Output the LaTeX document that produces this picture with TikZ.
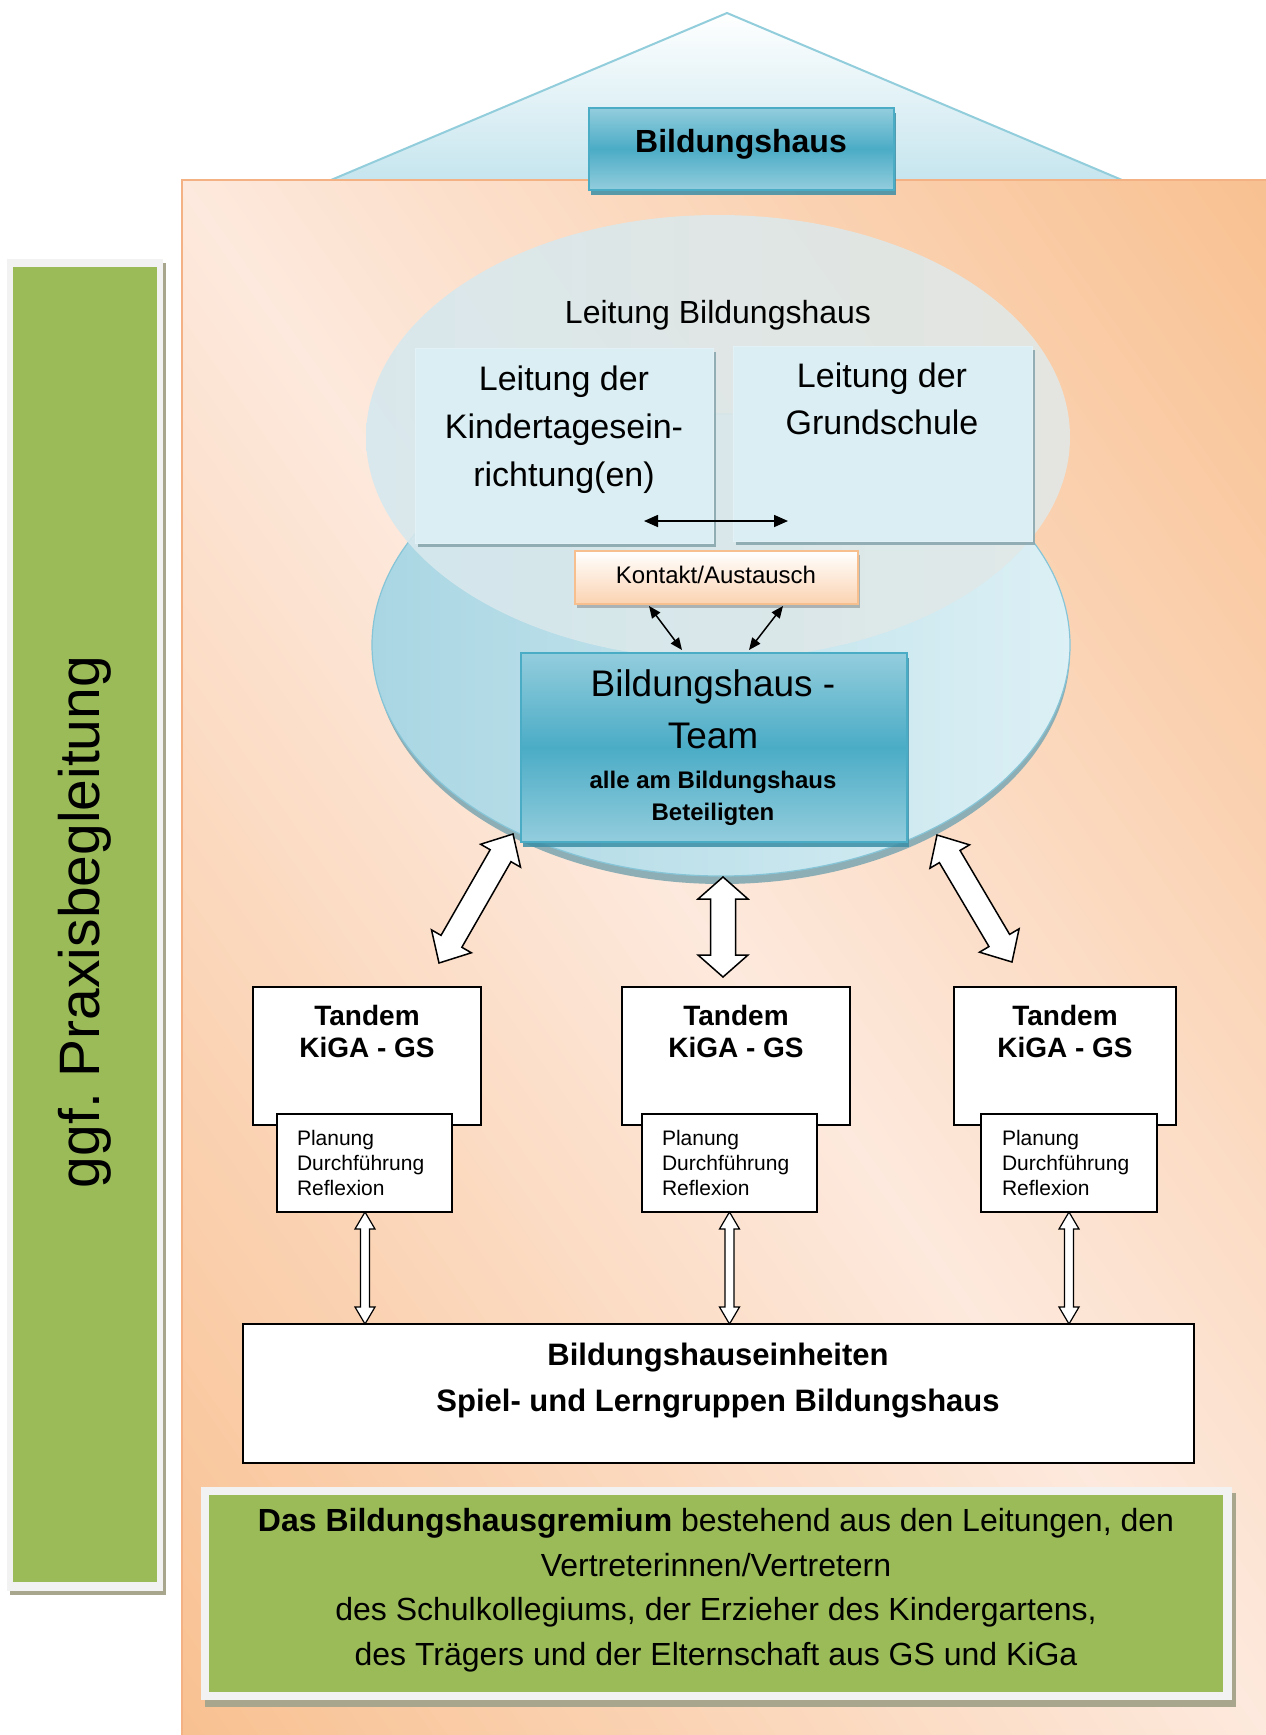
\documentclass[tikz,border=0pt]{standalone}
\usepackage{fontspec}
\setmainfont{Liberation Sans}
\usetikzlibrary{shapes.geometric,arrows.meta,shadows,calc}
\newcommand\fsz[2]{\fontsize{#1}{#2}\selectfont}
% block double arrow between two named coordinates: #1 style, #2 A, #3 B, #4 head length, #5 head half width, #6 shaft half width
\newcommand\blockarr[6]{%
  \filldraw[#1] (#2) -- ($(#2)!#4!(#3)!#5!90:(#3)$) -- ($(#2)!#4!(#3)!#6!90:(#3)$)
    -- ($(#3)!#4!(#2)!#6!-90:(#2)$) -- ($(#3)!#4!(#2)!#5!-90:(#2)$) -- (#3)
    -- ($(#3)!#4!(#2)!#5!90:(#2)$) -- ($(#3)!#4!(#2)!#6!90:(#2)$)
    -- ($(#2)!#4!(#3)!#6!-90:(#3)$) -- ($(#2)!#4!(#3)!#5!-90:(#3)$) -- cycle;}
\definecolor{roofline}{HTML}{92CDDC}
\definecolor{roofbot}{HTML}{C6E5EE}
\definecolor{orDark}{HTML}{F8BD8A}
\definecolor{orLight}{HTML}{FDE9DD}
\definecolor{orBorder}{HTML}{F4B183}
\definecolor{tealA}{HTML}{93CDDD}
\definecolor{tealB}{HTML}{4BACC6}
\definecolor{tealdark}{HTML}{3C8EA5}
\definecolor{ellL}{HTML}{A9D6E3}
\definecolor{ellR}{HTML}{DCF0F5}
\definecolor{ellEdge}{HTML}{86C5D7}
\definecolor{ellRim}{HTML}{8DAEB5}
\definecolor{upL}{HTML}{D6E8EE}
\definecolor{upR}{HTML}{E2E8E6}
\definecolor{leitFill}{HTML}{DAEEF3}
\definecolor{leitShadow}{HTML}{8AA7AF}
\definecolor{kontBot}{HTML}{FBD3B1}
\definecolor{kontBorder}{HTML}{F7BE8E}
\definecolor{grn}{HTML}{9BBB59}
\definecolor{frameGray}{HTML}{F2F2F2}
\definecolor{frameShadow}{HTML}{A8A68C}
\pgfdeclarehorizontalshading{orshade}{100bp}{color(0bp)=(orDark); color(12bp)=(orDark); color(50bp)=(orLight); color(88bp)=(orDark); color(100bp)=(orDark)}
\tikzset{
  leitbox/.style={fill=leitFill, draw=leitFill!80!white, line width=0.5pt, anchor=north west,
    drop shadow={shadow xshift=3pt, shadow yshift=-4pt, fill=leitShadow, opacity=0.9}},
  teambox/.style={top color=tealA, bottom color=tealA, middle color=tealB, draw=tealB, line width=2pt, anchor=north west,
    drop shadow={shadow xshift=2pt, shadow yshift=-5pt, fill=tealdark, opacity=0.85}},
  kontbox/.style={top color=white, bottom color=kontBot, draw=kontBorder, line width=1.5pt, anchor=north west,
    drop shadow={shadow xshift=2pt, shadow yshift=-4pt, fill=black!55, opacity=0.45}},
  tandbox/.style={draw=black, line width=2pt, fill=white, anchor=north west},
  subbox/.style={draw=black, line width=1.6pt, fill=white, anchor=north west},
  blk/.style={line width=1.6pt, {Triangle[length=14pt,width=12pt]}-{Triangle[length=14pt,width=12pt]}},
  blksmall/.style={line width=1.5pt, {Triangle[length=12pt,width=10pt]}-{Triangle[length=12pt,width=10pt]}},
  bigarrow/.style={draw=black, line width=1.5pt, fill=white, line join=miter},
  smallarrow/.style={draw=black, line width=1.2pt, fill=white, line join=miter},
  lbl/.style={anchor=base, align=center}
}
\begin{document}
\begin{tikzpicture}[x=1pt,y=-1pt, every node/.append style={inner sep=0pt, outer sep=0pt}]
\useasboundingbox (0,0) rectangle (1266,1735);
\fill[white] (0,0) rectangle (1266,1735);

% roof
\shade[top color=white, bottom color=roofbot] (727,13) -- (1122,180) -- (331,180) -- cycle;
\draw[roofline, line width=2pt, line join=round] (331,180) -- (727,13) -- (1122,180);

% house body
\shade[shading=orshade, shading angle=35] (182,180) rectangle (1266,1735);
\draw[orBorder, line width=1.5pt] (1266,180) -- (182,180) -- (182,1735);

% left side bar
\fill[frameShadow] (10,263) rectangle (166,1595);
\node[fill=frameGray, minimum width=156, minimum height=1332, anchor=north west] (praxFrame) at (7,259) {};
\node[fill=grn, minimum width=144, minimum height=1315, anchor=north west] (praxBar) at (13,267) {};
\node[font=\fsz{57}{64}, rotate=90] (praxis) at (85,922) {ggf.\ Praxisbegleitung};

% top box
\node[teambox, minimum width=305, minimum height=82] (bh) at (589,108) {};
\node[lbl, font=\bfseries\fsz{32}{38}] (bhT) at (741,152) {Bildungshaus};

% ellipses
\node[ellipse, fill=ellRim, minimum width=696, minimum height=466] (lowRim) at (722,651) {};
\node[ellipse, left color=ellL, right color=ellR, draw=ellEdge, line width=1.2pt, minimum width=698, minimum height=462] (lowEll) at (721,645) {};
\node[ellipse, left color=upL, right color=upR, fill opacity=0.9, minimum width=704, minimum height=444] (leitEll) at (718,437) {};
\node[lbl, font=\fsz{32}{38}] (leitLbl) at (718,323) {Leitung Bildungshaus};

% Leitung boxes
\node[leitbox, minimum width=298, minimum height=195] (kita) at (415,348) {};
\node[leitbox, minimum width=299, minimum height=195] (gs) at (733,346) {};
\node[lbl, font=\fsz{34}{48}] (kitaT) at (564,486) {Leitung der\\Kindertagesein-\\richtung(en)};
\node[lbl, font=\fsz{34}{47}] (gsT) at (882,434) {Leitung der\\Grundschule};
\coordinate (hA) at (644,521);
\coordinate (hB) at (788,521);
\draw[blk] (hA) -- (hB);

% Kontakt
\node[kontbox, minimum width=283, minimum height=53] (kont) at (575,551) {};
\node[lbl, font=\fsz{24}{28}] (kontT) at (716,583) {Kontakt/Austausch};

% Team
\node[teambox, minimum width=386, minimum height=189] (team) at (521,653) {};
\node[lbl, font=\fsz{37}{52}] (teamT) at (713,748) {Bildungshaus -\\Team};
\node[lbl, font=\bfseries\fsz{24}{32}] (teamS) at (713,820) {alle am Bildungshaus\\Beteiligten};

\coordinate (k1a) at (649,606); \coordinate (k1b) at (682,650);
\coordinate (k2a) at (783,606); \coordinate (k2b) at (749,650);
\draw[blksmall] (k1a) -- (k1b);
\draw[blksmall] (k2a) -- (k2b);

% big arrows
\coordinate (bl1) at (513,834); \coordinate (bl2) at (439,963);
\coordinate (bm1) at (723,877); \coordinate (bm2) at (723,977);
\coordinate (br1) at (937,835); \coordinate (br2) at (1012,962);
\blockarr{bigarrow}{bl1}{bl2}{25pt}{23pt}{12pt}
\blockarr{bigarrow}{bm1}{bm2}{22pt}{25pt}{12.5pt}
\blockarr{bigarrow}{br1}{br2}{25pt}{23pt}{12pt}

% Tandem boxes
\node[tandbox, minimum width=228, minimum height=138] (tan1) at (253,987) {};
\node[tandbox, minimum width=228, minimum height=138] (tan2) at (622,987) {};
\node[tandbox, minimum width=222, minimum height=138] (tan3) at (954,987) {};
\node[lbl, font=\bfseries\fsz{28}{32}] (tan1T) at (367,1057) {Tandem\\KiGA - GS};
\node[lbl, font=\bfseries\fsz{28}{32}] (tan2T) at (736,1057) {Tandem\\KiGA - GS};
\node[lbl, font=\bfseries\fsz{28}{32}] (tan3T) at (1065,1057) {Tandem\\KiGA - GS};

\node[subbox, minimum width=175, minimum height=98] (sub1) at (277,1114) {};
\node[subbox, minimum width=175, minimum height=98] (sub2) at (642,1114) {};
\node[subbox, minimum width=176, minimum height=98] (sub3) at (981,1114) {};
\node[anchor=base west, align=left, font=\fsz{21}{25}] (sub1T) at (297,1195) {Planung\\Durchführung\\Reflexion};
\node[anchor=base west, align=left, font=\fsz{21}{25}] (sub2T) at (662,1195) {Planung\\Durchführung\\Reflexion};
\node[anchor=base west, align=left, font=\fsz{21}{25}] (sub3T) at (1002,1195) {Planung\\Durchführung\\Reflexion};

% Einheiten
\node[tandbox, minimum width=951, minimum height=139] (einh) at (243,1324) {};
\node[lbl, font=\bfseries\fsz{31}{46}] (einhT) at (718,1411) {Bildungshauseinheiten\\Spiel- und Lerngruppen Bildungshaus};

\coordinate (s1a) at (365,1212); \coordinate (s1b) at (365,1324);
\coordinate (s2a) at (729.5,1212); \coordinate (s2b) at (729.5,1324);
\coordinate (s3a) at (1069,1212); \coordinate (s3b) at (1069,1324);
\blockarr{smallarrow}{s1a}{s1b}{17pt}{10pt}{4.5pt}
\blockarr{smallarrow}{s2a}{s2b}{17pt}{10pt}{4.5pt}
\blockarr{smallarrow}{s3a}{s3b}{17pt}{10pt}{4.5pt}

% Gremium
\fill[frameShadow] (205,1493) rectangle (1236,1707);
\node[fill=frameGray, minimum width=1031, minimum height=213, anchor=north west] (gremFrame) at (201,1487) {};
\node[fill=grn, minimum width=1014, minimum height=197, anchor=north west] (grem) at (209,1495) {};
\node[lbl, font=\fsz{32}{44.5}] (gremT) at (716,1665) {\textbf{Das Bildungshausgremium} bestehend aus den Leitungen, den\\Vertreterinnen/Vertretern\\des Schulkollegiums, der Erzieher des Kindergartens,\\des Trägers und der Elternschaft aus GS und KiGa};
\end{tikzpicture}
\end{document}
